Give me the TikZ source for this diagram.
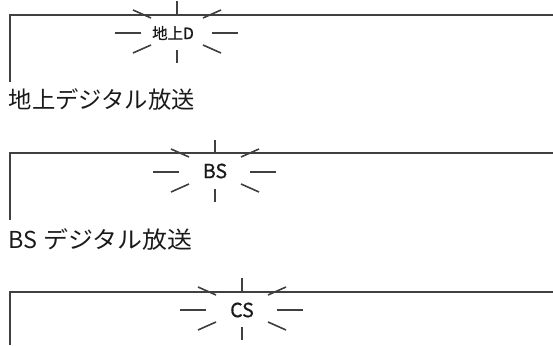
\documentclass[tikz,border=0pt]{standalone}
\usepackage{fontspec}
\setmainfont{Noto Sans CJK JP}
\newfontfamily\burstfont[FakeBold=0.8]{Noto Sans CJK JP}
\definecolor{linegray}{HTML}{404040}
\definecolor{textblack}{HTML}{1A1A1A}
\tikzset{
  x=1pt, y=-1pt,
  frame/.style={draw=linegray, line width=1.6pt},
  ray/.style={draw=linegray, line width=1.6pt},
  burstlabel/.style={inner sep=0pt, text=textblack, font=\burstfont\fontsize{15.5}{15.5}\selectfont},
  burstlabelbig/.style={inner sep=0pt, text=textblack, font=\burstfont\fontsize{19.5}{19.5}\selectfont},
  caption/.style={inner sep=0pt, anchor=west, text=textblack, font=\fontsize{23.3}{23.3}\selectfont},
  pics/sparkle/.style={code={
    \draw[ray] (0,-18) -- (0,-32);
    \draw[ray] (0,17) -- (0,30);
    \draw[ray] (-36,0) -- (-62,0);
    \draw[ray] (35,0) -- (61,0);
    \draw[ray] (-26,-15) -- (-44,-23);
    \draw[ray] (26,-15) -- (44,-23);
    \draw[ray] (-26,12) -- (-44,20);
    \draw[ray] (26,12) -- (44,20);
  }}
}
\begin{document}
\begin{tikzpicture}
\useasboundingbox (0,0) rectangle (553,345);
% block 1
\draw[frame] (10,82) -- (10,15) -- (553,15);
\pic at (177,33) {sparkle};
\node[burstlabel] (chijoD) at (173,33) {地上D};
\node[caption] (cap1) at (8.5,100) {地上デジタル放送};
% block 2
\draw[frame] (10,220) -- (10,153) -- (553,153);
\pic at (215,172) {sparkle};
\node[burstlabelbig] (bs) at (215,171) {BS};
\node[caption] (cap2) at (8.5,240) {BS\hspace{6pt}\scalebox{1.07}[1]{デジタル放送}};
% block 3
\draw[frame] (10,345) -- (10,292) -- (553,292);
\pic at (242,310) {sparkle};
\node[burstlabelbig] (cs) at (242,310) {CS};
\end{tikzpicture}
\end{document}
